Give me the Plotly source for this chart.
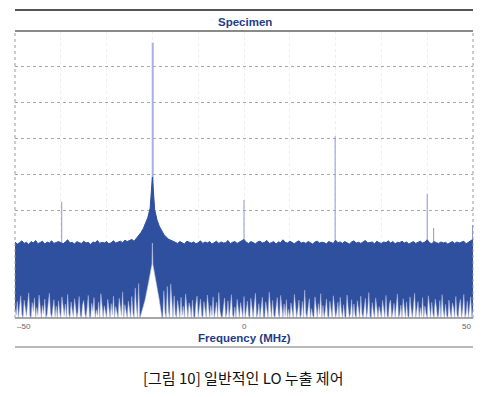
import numpy as np
import plotly.graph_objects as go

# ---------------- data (levels in dB above display floor) ----------------
top_start, top_step = -50.0, 0.5
gap_start, gap_step = -50.0, 0.25

noise_top = [
    21.2, 20.6, 21.0, 21.5, 20.8, 21.1, 20.5, 21.3, 20.9, 21.6,
    20.7, 21.0, 21.4, 20.6, 21.2, 20.9, 21.5, 20.8, 21.1, 21.3,
    21.0, 20.7, 21.2, 21.8, 20.9, 21.1, 20.6, 21.3, 21.0, 20.8,
    21.4, 20.9, 21.1, 20.5, 21.2, 21.0, 21.6, 20.8, 21.1, 20.9,
    21.3, 20.7, 21.0, 21.5, 20.9, 21.2, 21.4, 21.0, 21.7, 21.3,
    21.6, 21.9, 21.4, 22.2, 22.9, 23.8, 24.9, 26.3, 28.0, 30.6,
    39.3,
    30.2, 27.4, 25.6, 24.3, 23.3, 22.6, 22.0, 21.7, 21.4,
    21.2, 20.8, 21.3, 21.0, 20.6, 21.4, 21.1, 20.9, 21.2, 20.7,
    21.0, 21.5, 20.8, 21.2, 20.9, 21.3, 20.6, 21.1, 21.4, 20.8,
    21.2, 20.9, 21.0, 21.6, 20.7, 21.1, 21.3, 20.8, 21.2, 21.5,
    21.9, 21.1, 20.8, 21.3, 21.0, 20.7, 21.2, 21.4, 20.9, 21.1,
    21.6, 20.8, 21.0, 21.3, 20.6, 21.2, 21.0, 21.8, 21.1, 20.9,
    21.4, 21.0, 20.7, 21.2, 21.5, 20.9, 21.1, 20.8, 21.3, 21.0,
    20.6, 21.2, 21.4, 20.9, 21.1, 21.0, 20.7, 21.3, 21.1, 20.8,
    21.7, 21.0, 21.2, 20.8, 21.3, 21.0, 20.6, 21.2, 21.5, 20.9,
    21.1, 20.8, 21.3, 21.6, 20.9, 21.0, 21.2, 20.7, 21.4, 21.0,
    20.8, 21.2, 21.0, 21.5, 20.9, 21.3, 20.7, 21.1, 21.0, 21.4,
    20.9, 21.2, 20.6, 21.0, 21.3, 20.8, 21.1, 21.4, 20.9, 21.2,
    21.8, 21.0, 20.7, 21.3, 21.0, 20.8, 21.2, 20.9, 21.1, 20.6,
    21.0, 21.3, 20.8, 21.2, 20.9, 21.1, 21.4, 20.7, 21.0, 21.5, 22.0,
]

noise_floor_gaps = [
    2.5, 0.8, 4.6, 0, 3.1, 6.2, 1.0, 0, 5.0, 2.2, 0.5, 3.8, 7.0, 0.6, 0, 4.3, 1.8, 5.6, 0, 2.9,
    0.7, 6.4, 2.0, 0, 3.5, 1.2, 5.3, 0, 0.9, 4.0, 6.9, 1.4, 0, 2.6, 5.1, 0.3, 3.3, 0, 4.8, 1.6,
    0, 5.9, 2.4, 0.6, 3.9, 0, 6.6, 1.1, 0, 4.5, 2.0, 0.4, 5.4, 3.0, 0, 1.7, 6.0, 0.8, 0, 3.6,
    4.9, 1.3, 0, 2.8, 6.3, 0.5, 0, 4.1, 1.9, 5.7, 0, 2.3, 0.7, 4.4, 0, 6.8, 2.1, 0, 3.4, 1.0,
    0, 5.2, 2.7, 0, 4.0, 0.9, 6.1, 0, 3.2, 1.5, 0, 5.5, 2.4, 0.6, 7.3, 0, 3.7, 1.2, 0, 4.7,
    2.0, 0, 6.0, 1.4, 0, 8.4, 3.0, 0, 9.6, 0, 0, 0, 0, 0, 0, 0, 0, 0, 0, 0,
    0, 0, 0, 0, 0, 0, 0, 0, 0, 0, 7.6, 1.5, 0, 8.8, 2.0, 0, 9.5, 3.4, 0, 6.2,
    1.1, 0, 4.9, 2.6, 0, 5.8, 0.7, 3.3, 0, 6.7, 1.8, 0, 4.2, 2.9, 0, 5.0, 0.4, 0, 3.8, 6.1,
    0, 2.4, 5.3, 0.8, 0, 4.6, 1.5, 0, 6.4, 2.2, 0, 3.5, 0.6, 5.9, 0, 1.9, 4.4, 0, 7.1, 2.0,
    0.5, 0, 3.9, 5.6, 0, 1.3, 4.8, 0, 2.7, 6.5, 0.9, 0, 3.1, 0, 5.2, 1.6, 0, 4.3, 2.5, 0,
    6.0, 0, 2.1, 4.7, 0.6, 0, 5.5, 1.8, 0, 3.6, 6.9, 0, 1.2, 4.0, 0, 2.8, 5.8, 0.3, 0, 4.5,
    1.5, 0, 7.2, 2.6, 0, 4.9, 0.8, 0, 3.4, 5.7, 1.1, 0, 6.3, 2.0, 0, 3.9, 0.5, 5.1, 0, 2.4,
    0, 4.2, 1.7, 0, 6.6, 3.0, 0, 2.2, 5.0, 0, 0.9, 4.6, 0, 7.8, 1.4, 0, 3.3, 5.4, 0, 2.6,
    0.7, 0, 5.9, 2.3, 0, 4.0, 1.0, 6.8, 0, 3.5, 0, 2.0, 5.3, 0.6, 0, 4.7, 1.9, 0, 6.2, 3.0,
    0, 1.6, 4.4, 0, 5.8, 2.1, 0, 3.7, 0.4, 0, 6.4, 2.8, 0, 1.3, 5.1, 0, 3.9, 0.8, 0, 4.8,
    2.5, 0, 6.1, 1.2, 0, 3.4, 5.5, 0, 2.0, 7.1, 0.5, 0, 4.3, 1.7, 0, 5.6, 2.9, 0, 3.2, 0.9,
    0, 4.9, 2.2, 0, 6.3, 0.7, 0, 3.8, 5.0, 0, 1.5, 4.1, 0, 2.7, 6.7, 0, 1.0, 3.6, 0, 5.4,
    2.0, 0, 4.5, 0.6, 0, 5.9, 2.4, 0, 3.1, 6.9, 0, 1.8, 4.6, 0, 2.9, 0.5, 5.7, 0, 3.3, 1.2,
    0, 6.2, 2.6, 0, 4.4, 1.1, 0, 5.3, 3.0, 0, 0.8, 4.9, 0, 6.5, 2.1, 0, 3.8, 0.6, 0, 5.0,
    1.7, 0, 4.2, 2.8, 0, 6.0, 0.9, 0, 3.5, 5.2, 0, 2.3, 6.6, 0, 1.4, 4.7, 0, 3.0, 5.9, 0,
    2.0,
]

notch_freq = [-22.7, -21.6, -20.9, -20.4, -20.1, -20.05, -20.0, -19.95, -19.9, -19.6, -19.1, -18.5, -17.9]
notch_level = [0, 5.0, 9.5, 13.0, 15.0, 18.0, 20.9, 18.0, 15.0, 13.0, 9.5, 5.0, 0]

carrier_freq = -19.93
carrier_level = 76.7

spur_freqs = [-39.8, 0.0, 19.9, 40.0, 41.4, 49.9]
spur_levels = [32.4, 32.9, 50.7, 34.6, 25.1, 25.9]

x_tick_vals = [-50, 0, 50]
x_tick_text = ["\u201350", "0", "50"]

title_text = "Specimen"
x_title = "Frequency (MHz)"
caption = "[그림 10] 일반적인 LO 누출 제어"

# ---------------- figure ----------------
freqs = top_start + top_step * np.arange(len(noise_top))
gap_freqs = gap_start + gap_step * np.arange(len(noise_floor_gaps))

BLUE = "#2f4f9f"

fig = go.Figure()

# spurs
sx, sy = [], []
for f, v in zip(spur_freqs, spur_levels):
    sx += [f, f, None]
    sy += [0, v, None]
fig.add_trace(go.Scatter(x=sx, y=sy, mode="lines",
                         line=dict(color="#8d99d0", width=1), hoverinfo="skip"))

# carrier line
fig.add_trace(go.Scatter(x=[carrier_freq, carrier_freq], y=[0, carrier_level], mode="lines",
                         line=dict(color="#a6b1e0", width=2), hoverinfo="skip"))

# noise band
fig.add_trace(go.Scatter(x=freqs, y=noise_top, mode="lines", fill="tozeroy",
                         fillcolor=BLUE, line=dict(color=BLUE, width=1), hoverinfo="skip"))

# minima gaps at the floor
fig.add_trace(go.Scatter(x=gap_freqs, y=noise_floor_gaps, mode="lines", fill="tozeroy",
                         fillcolor="#fbfbfe", line=dict(color="#b3bbe3", width=0.5),
                         hoverinfo="skip"))

# notch below carrier
fig.add_trace(go.Scatter(x=notch_freq, y=notch_level, mode="lines", fill="tozeroy",
                         fillcolor="#ffffff", line=dict(color="#b8c0e6", width=0.6),
                         hoverinfo="skip"))

GRAY = "#8a8a8a"
shapes = [
    dict(type="line", xref="paper", yref="paper", x0=0, x1=1, y0=1.0732, y1=1.0732,
         line=dict(color="#555555", width=2)),
    dict(type="line", xref="paper", yref="paper", x0=0, x1=1, y0=1, y1=1,
         line=dict(color=GRAY, width=2)),
    dict(type="line", xref="paper", yref="paper", x0=0, x1=1, y0=0, y1=0,
         line=dict(color=GRAY, width=1.5)),
    dict(type="line", xref="paper", yref="paper", x0=0, x1=1, y0=-0.101, y1=-0.101,
         line=dict(color="#a0a0a0", width=1.5)),
    dict(type="line", xref="paper", yref="paper", x0=0, x1=0, y0=0, y1=1,
         line=dict(color="#9a9a9a", width=1, dash="dot")),
    dict(type="line", xref="paper", yref="paper", x0=1, x1=1, y0=0, y1=1,
         line=dict(color="#9a9a9a", width=1, dash="dot")),
]

annotations = [
    dict(text=f"<b>{title_text}</b>", xref="paper", yref="paper", x=0.502, y=1.0314,
         showarrow=False, xanchor="center", yanchor="middle",
         font=dict(family="Liberation Sans", size=11.5, color="#1f3c88")),
    dict(text=f"<b>{x_title}</b>", xref="x", yref="paper", x=0, y=-0.0697,
         showarrow=False, xanchor="center", yanchor="middle",
         font=dict(family="Liberation Sans", size=11.5, color="#1f3c88")),
    dict(text=caption, xref="paper", yref="paper", x=0.497, y=-0.2056,
         showarrow=False, xanchor="center", yanchor="middle",
         font=dict(family="Noto Sans CJK KR", size=15, color="#111111")),
]
anchors = ["left", "center", "right"]
for v, t, a in zip(x_tick_vals, x_tick_text, anchors):
    annotations.append(dict(text=t, xref="x", yref="paper", x=v, y=-0.031,
                            showarrow=False, xanchor=a, yanchor="middle",
                            font=dict(family="Liberation Sans", size=8, color="#666666")))

fig.update_layout(
    width=500, height=397,
    margin=dict(l=15, r=27, t=31, b=79),
    paper_bgcolor="white", plot_bgcolor="white",
    showlegend=False,
    shapes=shapes, annotations=annotations,
    xaxis=dict(range=[-50, 50], dtick=10, tick0=-50, showticklabels=False,
               showgrid=True, gridcolor="#eeeeee", griddash="dot", gridwidth=1,
               zeroline=False, showline=False, ticks=""),
    yaxis=dict(range=[0, 80], dtick=10, tick0=0, showticklabels=False,
               showgrid=True, gridcolor="#a8a8a8", griddash="dot", gridwidth=1,
               zeroline=False, showline=False, ticks=""),
)

fig.write_html("out.html", config={"displayModeBar": False},
               post_script="document.body.style.margin='0';")
